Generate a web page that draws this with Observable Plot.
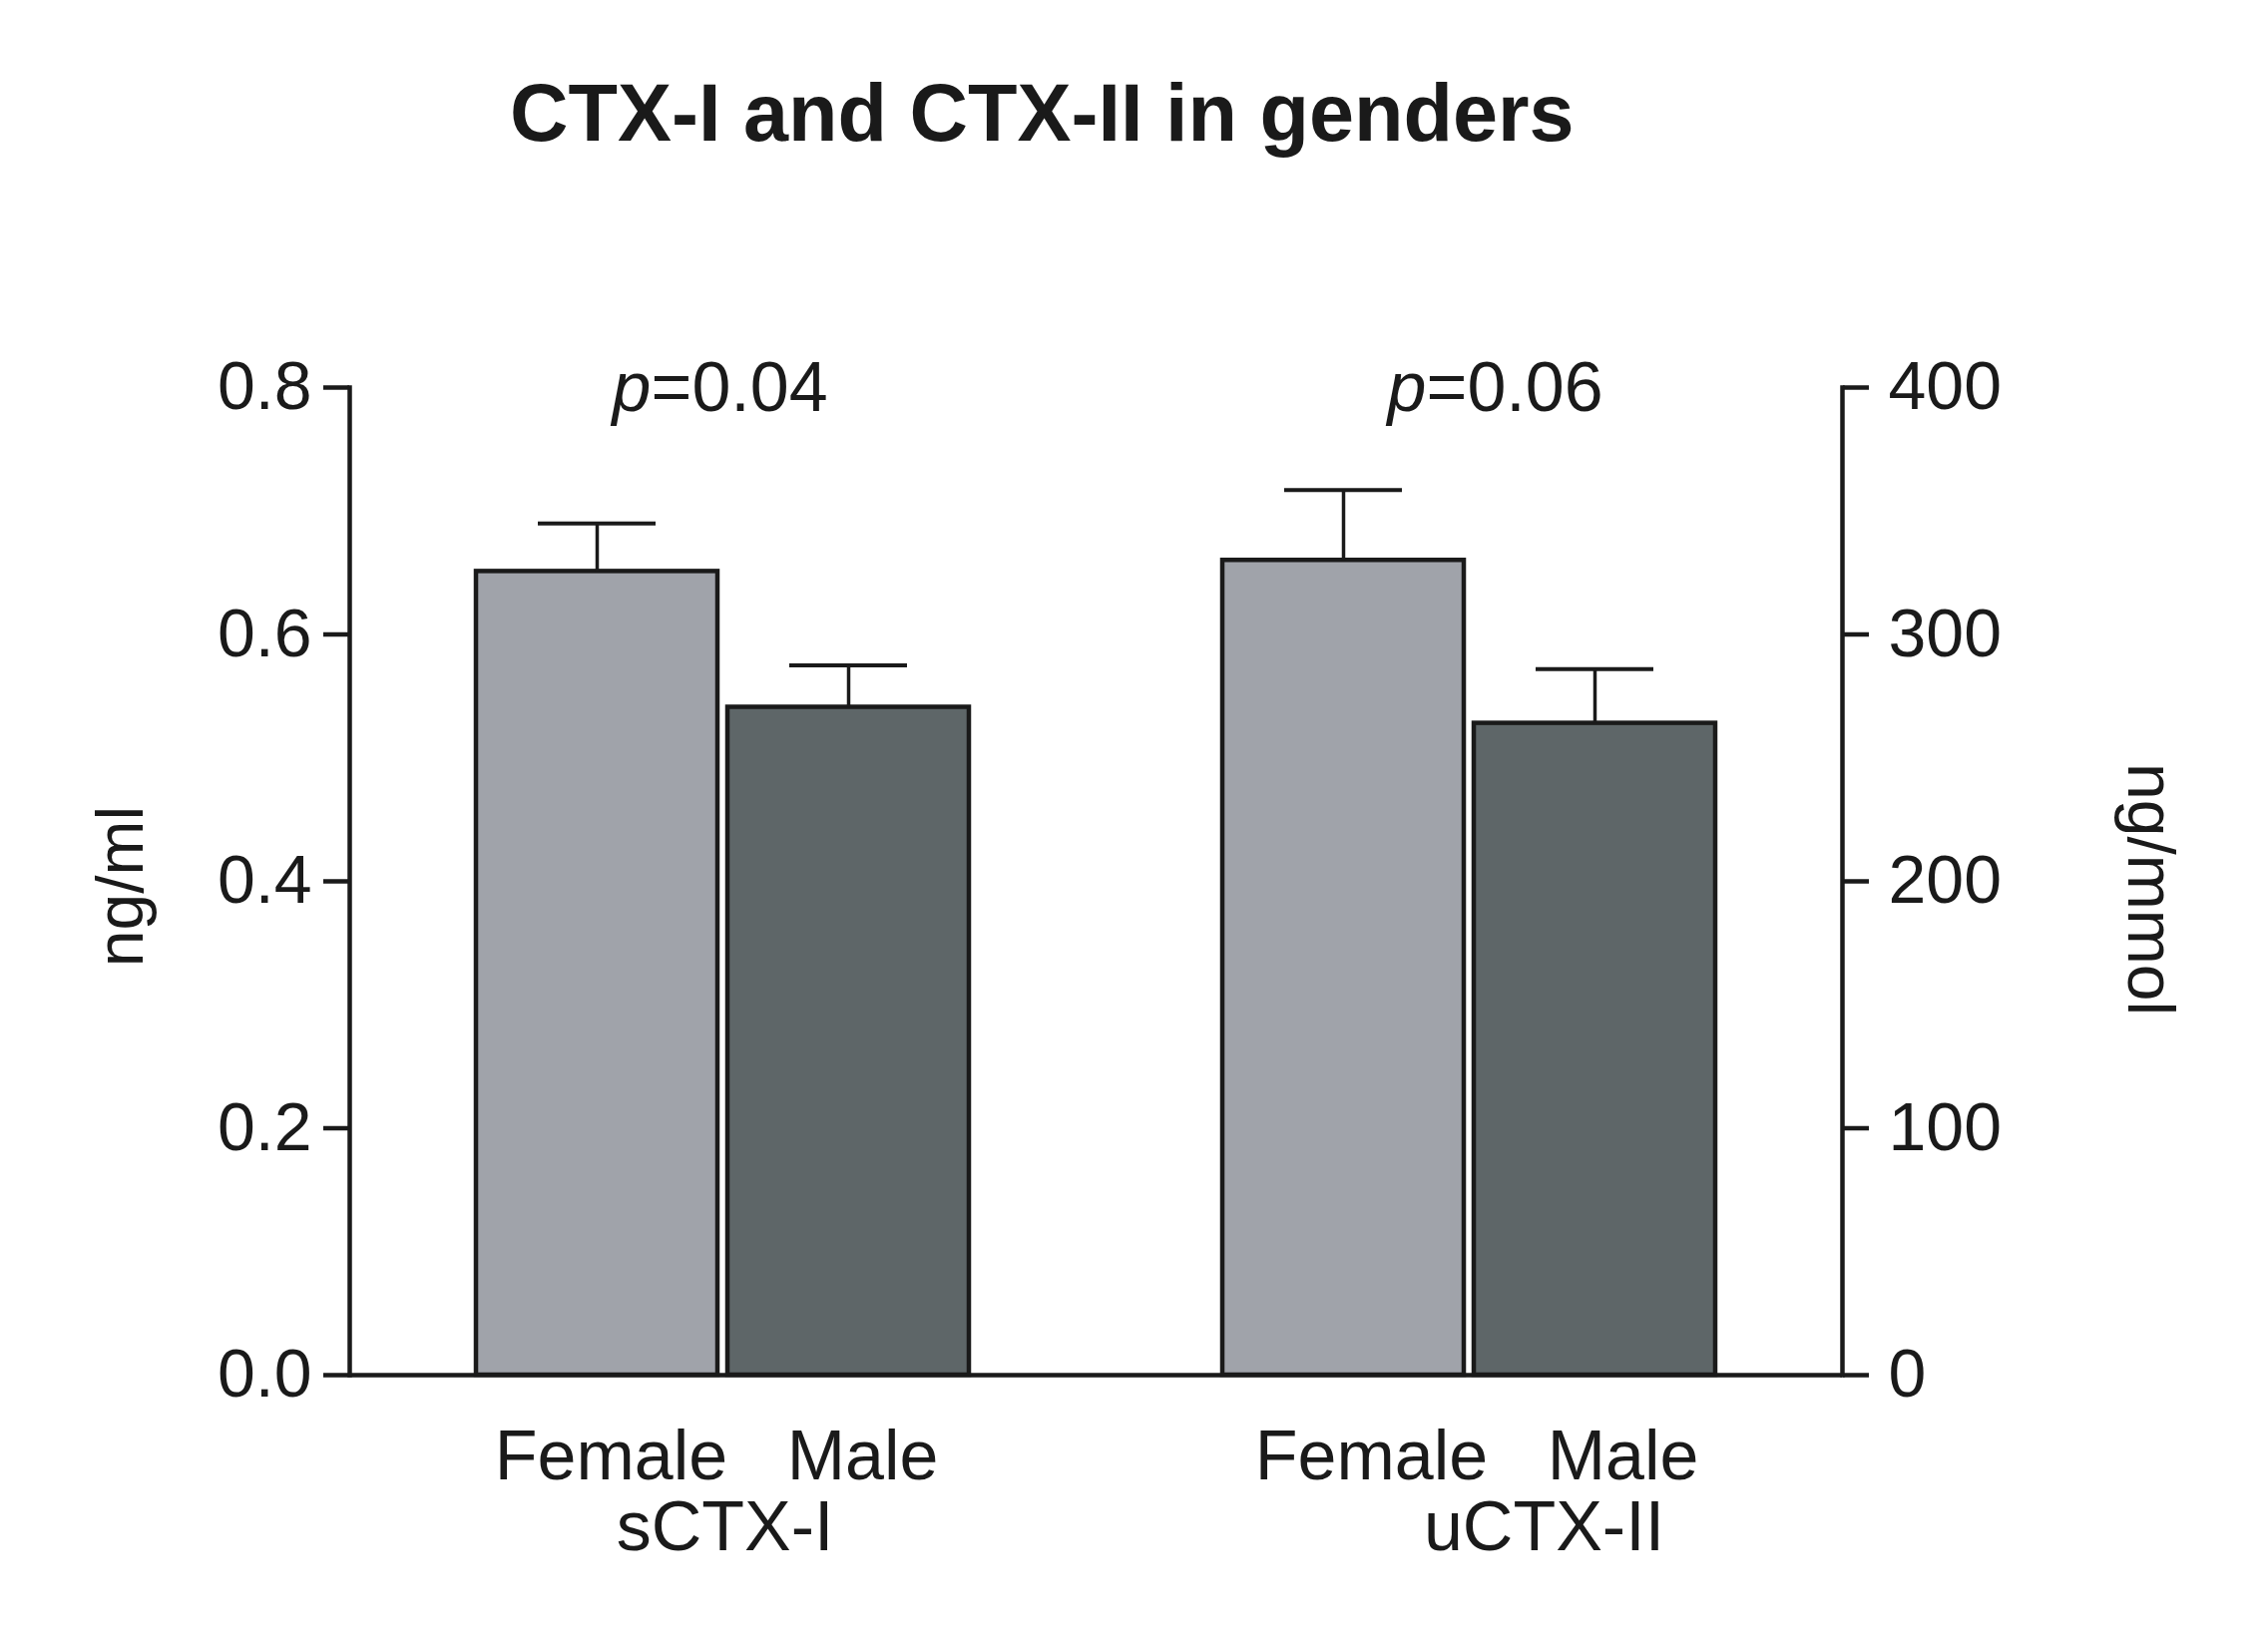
<!DOCTYPE html>
<html>
<head>
<meta charset="utf-8">
<script src="https://cdn.jsdelivr.net/npm/d3@7"></script>
<script src="https://cdn.jsdelivr.net/npm/@observablehq/plot@0.6"></script>
<style>
  html, body { margin: 0; padding: 0; background: #ffffff; }
  #title {
    width: 2273px; height: 300px; box-sizing: border-box;
    padding-top: 73px; padding-left: 0;
    font-family: "Liberation Sans", Arial, sans-serif;
    font-weight: bold; font-size: 81px; line-height: 81px;
    color: #1a1a1a; text-align: left;
  }
  #title span { display: inline-block; position: relative; left: 511px; }
  #chart svg { display: block; }
</style>
</head>
<body>
<div id="title"><span>CTX-I and CTX-II in genders</span></div>
<div id="chart"></div>
<script>
// ---- data ----
const groups = ["sCTX-I", "uCTX-II"];
const sexes = ["Female", "Male"];
const sctxMean = [0.651, 0.541];      // ng/ml (left axis)
const sctxSem = [0.039, 0.034];
const uctxMean = [330, 264];          // ng/mmol (right axis)
const uctxSem = [28.5, 22];
const leftTicks = [0, 0.2, 0.4, 0.6, 0.8];
const rightTicks = [0, 100, 200, 300, 400];
const pValues = ["=0.04", "=0.06"];
const yLabelLeft = "ng/ml";
const yLabelRight = "ng/mmol";
const colors = ["#a0a3aa", "#5e6668"];

// right axis is mapped onto the left scale
const leftMax = leftTicks[leftTicks.length - 1];
const rightMax = rightTicks[rightTicks.length - 1];
const k = leftMax / rightMax;

const rows = groups.flatMap((g, i) => sexes.map((s, j) => {
  const m = i === 0 ? sctxMean[j] : uctxMean[j] * k;
  const e = i === 0 ? sctxSem[j] : uctxSem[j] * k;
  return {group: g, sex: s, value: m, top: m + e};
}));

const ink = "#1a1a1a";
const font = "'Liberation Sans', Arial, sans-serif";

const chart = Plot.plot({
  width: 2273,
  height: 1340,
  marginLeft: 350,
  marginRight: 427,
  marginTop: 88,
  marginBottom: 262,
  style: {fontFamily: font, fontSize: "68px", color: ink, background: "#ffffff"},
  fx: {domain: groups, padding: 0, axis: null},
  x: {domain: sexes, paddingInner: 0.04, paddingOuter: 0.504, axis: null},
  y: {domain: [0, leftMax], axis: null},
  color: {domain: sexes, range: colors},
  marks: [
    // bars
    Plot.barY(rows, {fx: "group", x: "sex", y: "value", fill: "sex",
      stroke: ink, strokeWidth: 4.5}),
    // error bar stems and caps
    Plot.ruleX(rows, {fx: "group", x: "sex", y1: "value", y2: "top",
      stroke: ink, strokeWidth: 3.5}),
    Plot.tickY(rows, {fx: "group", x: "sex", y: "top",
      stroke: ink, strokeWidth: 4, insetLeft: 62, insetRight: 62}),
    // baseline
    Plot.ruleY([0], {stroke: ink, strokeWidth: 4.5}),
    // axis lines
    Plot.frame({anchor: "left", facetAnchor: "left", stroke: ink, strokeWidth: 4.5}),
    Plot.frame({anchor: "right", facetAnchor: "right", stroke: ink, strokeWidth: 4.5}),
    // left axis
    Plot.axisY({anchor: "left", ticks: leftTicks, tickFormat: d3.format(".1f"),
      tickSize: 26, tickPadding: 12, fontSize: 68, stroke: ink, strokeWidth: 4.5, label: null}),
    // right axis
    Plot.axisY({anchor: "right", ticks: rightTicks.map(v => v * k),
      tickFormat: d => String(Math.round(d / k)),
      tickSize: 26, tickPadding: 20, fontSize: 68, stroke: ink, strokeWidth: 4.5, label: null}),
    // y labels
    Plot.text([yLabelLeft], {fx: () => groups[0], text: d => d, frameAnchor: "left",
      rotate: -90, dx: -208, dy: 5, lineAnchor: "bottom", textAnchor: "middle", fontSize: 66}),
    Plot.text([yLabelRight], {fx: () => groups[1], text: d => d, frameAnchor: "right",
      rotate: 90, dx: 286, dy: 8, lineAnchor: "bottom", textAnchor: "middle", fontSize: 66}),
    // p values
    Plot.text([groups[0]], {fx: d => d, text: () => "p", frameAnchor: "top",
      dx: -72, dy: 23, textAnchor: "end", lineAnchor: "bottom", fontStyle: "italic", fontSize: 70}),
    Plot.text([groups[0]], {fx: d => d, text: () => pValues[0], frameAnchor: "top",
      dx: -72, dy: 23, textAnchor: "start", lineAnchor: "bottom", fontSize: 70}),
    Plot.text([groups[1]], {fx: d => d, text: () => "p", frameAnchor: "top",
      dx: -43, dy: 23, textAnchor: "end", lineAnchor: "bottom", fontStyle: "italic", fontSize: 70}),
    Plot.text([groups[1]], {fx: d => d, text: () => pValues[1], frameAnchor: "top",
      dx: -43, dy: 23, textAnchor: "start", lineAnchor: "bottom", fontSize: 70}),
    // category labels
    Plot.text(rows.filter(d => d.group === groups[0]), {fx: "group", x: "sex", text: "sex",
      frameAnchor: "bottom", dx: 14, dy: 104, lineAnchor: "bottom", fontSize: 70}),
    Plot.text(rows.filter(d => d.group === groups[1]), {fx: "group", x: "sex", text: "sex",
      frameAnchor: "bottom", dx: 28, dy: 104, lineAnchor: "bottom", fontSize: 70}),
    Plot.text([groups[0]], {fx: d => d, text: d => d,
      frameAnchor: "bottom", dx: 2, dy: 175, lineAnchor: "bottom", fontSize: 70}),
    Plot.text([groups[1]], {fx: d => d, text: d => d,
      frameAnchor: "bottom", dx: 75, dy: 175, lineAnchor: "bottom", fontSize: 70})
  ]
});
document.getElementById("chart").appendChild(chart);
</script>
</body>
</html>
